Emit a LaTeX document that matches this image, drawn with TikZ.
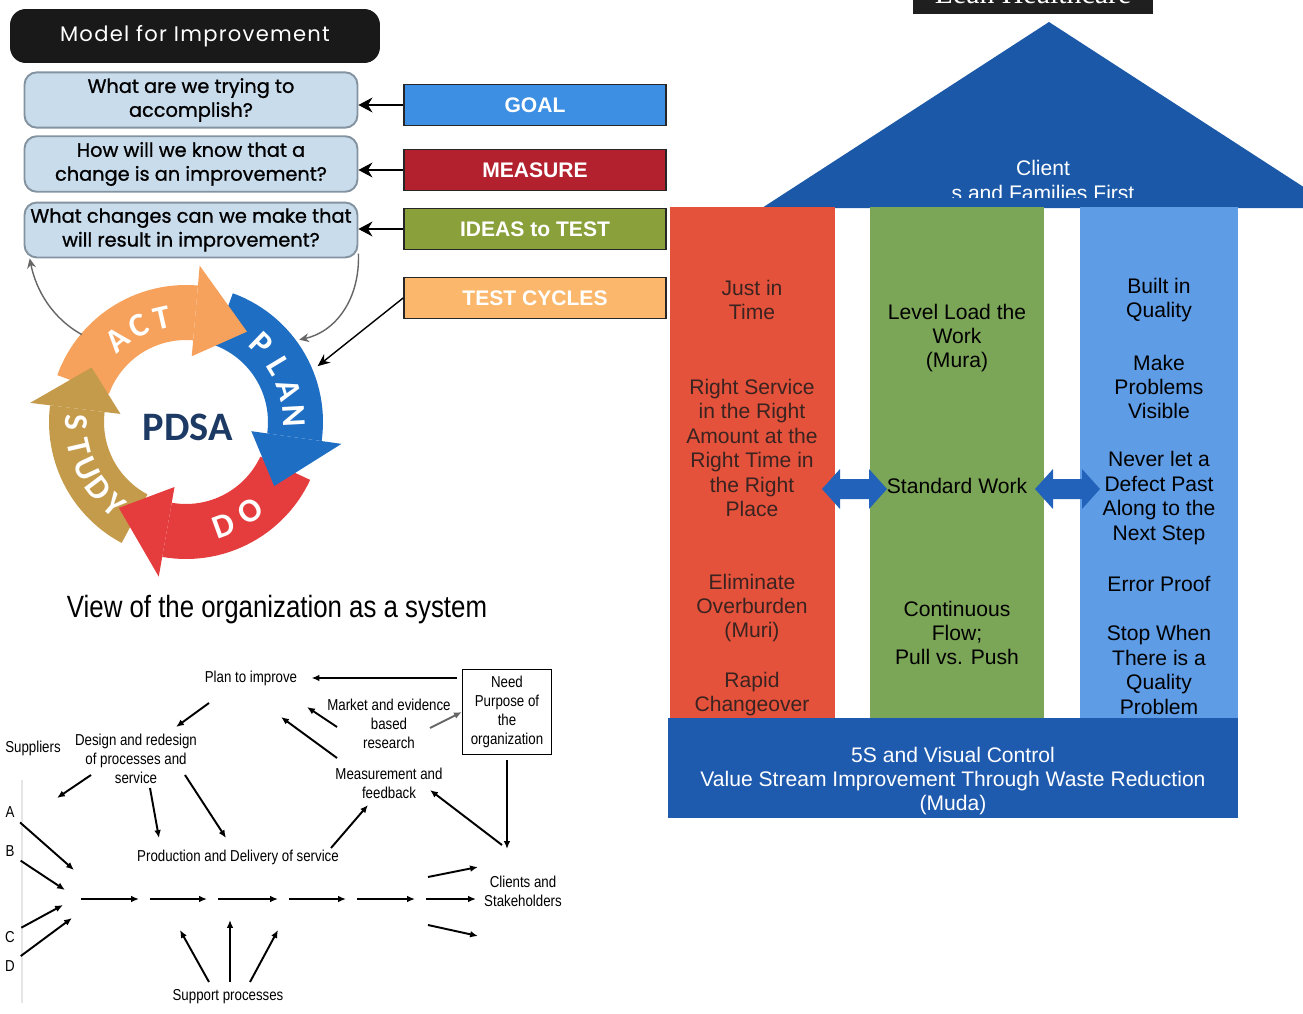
\documentclass[tikz,border=0pt]{standalone}
\usepackage{fontspec}
\setmainfont{Liberation Sans}
\newfontfamily\qfont[FakeBold=1]{Poppins}
\newfontfamily\headfont{Poppins}
\newfontfamily\cyclefont{Carlito}
\newfontfamily\narrowfont[FakeStretch=0.84]{Liberation Sans}
\newfontfamily\barfont{Liberation Serif}
\usetikzlibrary{arrows.meta}

\definecolor{qfill}{HTML}{C9DCEC}
\definecolor{qedge}{HTML}{8493A0}
\definecolor{goalblue}{HTML}{3D8FE3}
\definecolor{measred}{HTML}{B3212F}
\definecolor{ideagreen}{HTML}{8AA03A}
\definecolor{cycleorange}{HTML}{FBB86C}
\definecolor{actorange}{HTML}{F6A25D}
\definecolor{planblue}{HTML}{1E6EC4}
\definecolor{dored}{HTML}{E53D3D}
\definecolor{studytan}{HTML}{C49A4B}
\definecolor{pdsanavy}{HTML}{1C3A63}
\definecolor{roofblue}{HTML}{1B59A8}
\definecolor{redcol}{HTML}{E5523B}
\definecolor{greencol}{HTML}{7BA557}
\definecolor{skycol}{HTML}{5E9CE6}
\definecolor{baseblue}{HTML}{1E5AAE}
\definecolor{arrowblue}{HTML}{2262BA}
\definecolor{redtext}{HTML}{3A2320}

% one segment of the PDSA wheel: colour, tail angle, head angle
\newcommand\ringband[3]{\fill[#1] plot[domain=#2:#3,samples=30] (\x:82) -- plot[domain=#3:#2,samples=30] (\x:137) -- cycle;}
% its arrow head: colour, base angle, tip angle
\newcommand\ringhead[3]{\fill[#1] (#2:66) -- (#3:109) -- (#2:157) -- cycle;}
% two-headed arrow between the pillars: left tip, right tip
\newcommand\dblarrow[2]{\fill[arrowblue] (#1,489) -- (#1+18,469) -- (#1+18,479) -- (#2-18,479) -- (#2-18,469) -- (#2,489) -- (#2-18,509) -- (#2-18,499) -- (#1+18,499) -- (#1+18,509) -- cycle;}

\begin{document}
\begin{tikzpicture}[x=0.02cm,y=-0.02cm,
  qbox/.style={draw=qedge,line width=1.1pt,fill=qfill,rounded corners=7pt,minimum width=6.66cm,minimum height=1.08cm,align=center,font=\qfont\fontsize{11}{13.6}\selectfont},
  labelbox/.style={draw=black!85,line width=1pt,minimum width=5.24cm,minimum height=0.82cm,text=white,font=\bfseries\fontsize{12}{14}\selectfont},
  tagarrow/.style={-{Stealth[length=8pt,width=8.5pt]},line width=0.6pt},
  backarrow/.style={-{Stealth[length=5.5pt,width=5pt]},draw=black!60,line width=0.8pt},
  ringtext/.style={text=white,font=\cyclefont\bfseries\fontsize{19}{19}\selectfont,inner sep=0pt},
  sys/.style={font=\narrowfont\fontsize{9}{10.8}\selectfont,align=center,inner sep=0pt},
  sysarrow/.style={-{Latex[length=4.5pt,width=3.8pt]},line width=1.1pt},
  pillar/.style={font=\fontsize{12}{13.9}\selectfont,align=center},
]
\useasboundingbox (0,0) rectangle (1303,1014);

% Model for Improvement
\node[fill=black!90,rounded corners=9pt,minimum width=7.4cm,minimum height=1.08cm,text=white,
  font=\headfont\fontsize{12}{14}\selectfont\addfontfeature{LetterSpace=6}] (header) at (195,36) {Model for Improvement};
\node[qbox] (q1) at (191,100) {What are we trying to\\accomplish?};
\node[qbox] (q2) at (191,164) {How will we know that a\\change is an improvement?};
\node[qbox] (q3) at (191,230) {What changes can we make that\\will result in improvement?};

\node[labelbox,fill=goalblue] (goal) at (535,105) {GOAL};
\node[labelbox,fill=measred] (measure) at (535,170) {MEASURE};
\node[labelbox,fill=ideagreen] (ideas) at (535,229) {IDEAS to TEST};
\node[labelbox,fill=cycleorange] (cycles) at (535,298) {TEST CYCLES};

\draw[tagarrow] (goal.west) -- (goal.west -| q1.east);
\draw[tagarrow] (measure.west) -- (measure.west -| q2.east);
\draw[tagarrow] (ideas.west) -- (ideas.west -| q3.east);

% PDSA wheel
\begin{scope}[shift={(186,422)},yscale=-1]
\ringband{actorange}{160}{85}
\ringband{planblue}{70}{-8}
\ringband{dored}{-25}{-100}
\ringband{studytan}{-118}{-187}
\ringhead{planblue}{-8}{-36}
\ringhead{dored}{-100}{-128}
\ringhead{studytan}{-187}{-210}
\ringhead{actorange}{85}{56}
\foreach \ch/\a in {P/46,L/31,A/17,N/3}
  \node[ringtext,rotate=\a-90] (plan-\ch) at (\a:108) {\ch};
\foreach \ch/\a in {D/-70,O/-54}
  \node[ringtext,rotate=\a+90] (do-\ch) at (\a:110) {\ch};
\foreach \ch/\a in {S/180,T/193,U/205,D/217,Y/229}
  \node[ringtext,rotate=\a+90] (study-\ch) at (\a:110) {\ch};
\foreach \ch/\a in {A/130,C/116,T/103}
  \node[ringtext,rotate=\a-90] (act-\ch) at (\a:107) {\ch};
\coordinate (actout) at (140:136);
\coordinate (planin) at (36:140);
\coordinate (plantip) at (23:143);
\end{scope}
\node[text=pdsanavy,font=\cyclefont\bfseries\fontsize{23}{23}\selectfont] (pdsa) at (188,427) {PDSA};

\draw[backarrow] (actout) .. controls (52,318) and (36,290) .. (q3.190);
\draw[backarrow] (q3.-8) .. controls (360,300) and (335,332) .. (planin);
\draw[-{Stealth[length=7pt,width=6pt]},line width=0.8pt] (cycles.west) -- (plantip);

% organization as a system
\node[font=\narrowfont\fontsize{17.5}{20}\selectfont] (system) at (277,610) {View of the organization as a system};

\node[sys] (plan) at (251,678) {Plan to improve};
\node[sys] (market) at (389,724) {Market and evidence\\based\\research};
\node[sys,draw,line width=0.7pt,minimum width=1.78cm,minimum height=1.7cm] (need) at (507,712) {Need\\Purpose of\\the\\organization};
\node[sys] (suppliers) at (33,748) {Suppliers};
\node[sys] (design) at (136,759) {Design and redesign\\of processes and\\service};
\node[sys] (feedback) at (389,783) {Measurement and\\feedback};
\node[sys] (production) at (238,857) {Production and Delivery of service};
\node[sys] (clients) at (523,891) {Clients and\\Stakeholders};
\node[sys] (support) at (228,997) {Support processes};
\node[sys] (sA) at (10,812) {A};
\node[sys] (sB) at (10,851) {B};
\node[sys] (sC) at (10,937) {C};
\node[sys] (sD) at (10,966) {D};
\draw[black!10,line width=0.6pt] (22,780) -- (22,1003);

\foreach \n/\cx/\cy in {mkS/337/727,mkE/307/707,mnS/430/728,msS/337/758,msE/281/717,
    pdS/209/703,pdE/176/727,dsS/91/775,dsE/57/798,dp1S/150/788,dp1E/159/838,
    dp2S/185/775,dp2E/226/838,pmS/331/848,pmE/368/805,cmS/502/845,cmE/430/790,
    inA/74/870,inB/65/890,inC/63/905,inD/72/918,dv1S/428/877,dv1E/478/867,
    dv2S/428/925,dv2E/478/936,sp1S/209/982,sp1E/180/930,sp2S/230/982,sp2E/230/920,
    sp3S/250/982,sp3E/278/930}
  \coordinate (\n) at (\cx,\cy);

\draw[sysarrow,shorten <=3pt,shorten >=8pt] (need.west |- plan.east) -- (plan.east);
\draw[sysarrow] (mkS) -- (mkE);
\draw[sysarrow,draw=black!60] (mnS) -- (need.west);
\draw[sysarrow] (msS) -- (msE);
\draw[sysarrow] (pdS) -- (pdE);
\draw[sysarrow] (dsS) -- (dsE);
\draw[sysarrow] (dp1S) -- (dp1E);
\draw[sysarrow] (dp2S) -- (dp2E);
\draw[sysarrow] (pmS) -- (pmE);
\draw[sysarrow] (cmS) -- (cmE);
\draw[sysarrow,shorten <=3pt,shorten >=15pt] (need.south) -- (need.south |- clients.north);
\draw[sysarrow,shorten <=4pt] (sA.south east) -- (inA);
\draw[sysarrow,shorten <=4pt] (sB.south east) -- (inB);
\draw[sysarrow,shorten <=4pt] (sC.north east) -- (inC);
\draw[sysarrow,shorten <=4pt] (sD.north east) -- (inD);
\foreach \i/\a/\b in {1/81/139,2/150/207,3/218/278,4/289/346,5/357/415,6/426/476}{
  \coordinate (ch\i-s) at (\a,899);
  \coordinate (ch\i-e) at (\b,899);
  \draw[sysarrow] (ch\i-s) -- (ch\i-e);
}
\draw[sysarrow] (dv1S) -- (dv1E);
\draw[sysarrow] (dv2S) -- (dv2E);
\draw[sysarrow] (sp1S) -- (sp1E);
\draw[sysarrow] (sp2S) -- (sp2E);
\draw[sysarrow] (sp3S) -- (sp3E);

% Lean Healthcare house
\begin{scope}
\clip (913,0) rectangle (1153,14);
\fill[black!88] (913,-5) rectangle (1153,14);
\node[anchor=base,text=white,font=\barfont\fontsize{17}{17}\selectfont] (leanbar) at (1033,4) {Lean Healthcare};
\end{scope}
\fill[roofblue] (762,208) -- (1049,22) -- (1336,208) -- cycle;
\node[text=white,font=\fontsize{12}{14}\selectfont] (client) at (1043,168) {Client};
\begin{scope}
\clip (900,150) rectangle (1200,197);
\node[anchor=base,text=white,font=\fontsize{12}{14}\selectfont] (families) at (1043,200) {s and Families First};
\end{scope}

\fill[redcol] (670,207) rectangle (835,718);
\fill[greencol] (870,207) rectangle (1044,718);
\fill[skycol] (1080,207) rectangle (1238,718);
\fill[baseblue] (668,718) rectangle (1238,818);
\dblarrow{822}{887}
\dblarrow{1035}{1100}

\node[pillar,text=redtext] (jit) at (752,300) {Just in\\Time};
\node[pillar,text=redtext] (rightservice) at (752,448) {Right Service\\in the Right\\Amount at the\\Right Time in\\the Right\\Place};
\node[pillar,text=redtext] (muri) at (752,608) {Eliminate\\Overburden\\(Muri)};
\node[pillar,text=redtext] (changeover) at (752,694) {Rapid\\Changeover};
\node[pillar] (mura) at (957,338) {Level Load the\\Work\\(Mura)};
\node[pillar] (stdwork) at (957,486) {Standard Work};
\node[pillar] (pushpull) at (957,633) {Continuous\\Flow;\\Pull vs. Push};
\node[pillar] (quality) at (1159,300) {Built in\\Quality};
\node[pillar] (visible) at (1159,387) {Make\\Problems\\Visible};
\node[pillar] (defect) at (1159,498) {Never let a\\Defect Past\\Along to the\\Next Step};
\node[pillar] (errorproof) at (1159,584) {Error Proof};
\node[pillar] (stopwhen) at (1159,670) {Stop When\\There is a\\Quality\\Problem};
\node[pillar,text=white] (muda) at (953,781) {5S and Visual Control\\Value Stream Improvement Through Waste Reduction\\(Muda)};
\end{tikzpicture}
\end{document}
